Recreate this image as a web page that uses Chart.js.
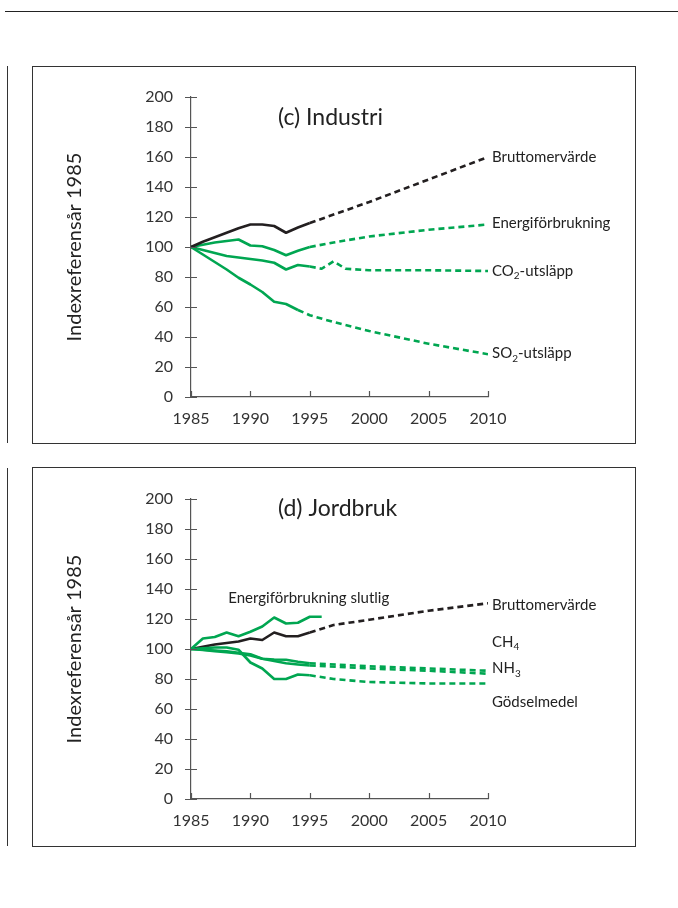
<!DOCTYPE html>
<html>
<head>
<meta charset="utf-8">
<script src="https://cdn.jsdelivr.net/npm/chart.js@4.4.1/dist/chart.umd.min.js"></script>
<style>
	body { margin: 0; background: #fff; width: 678px; height: 908px; position: relative; overflow: hidden; }
	.rule { position: absolute; left: 5px; top: 11px; width: 673px; border-top: 1.5px solid #222; }
	.bar { position: absolute; left: 7px; border-left: 1.5px solid #333; }
	.box { position: absolute; left: 32px; width: 604px; box-sizing: border-box; border: 1px solid #333; }
	.box canvas { position: absolute; left: 0; top: 0; }
</style>
</head>
<body>
<div class="rule"></div>
<div class="bar" style="top:66px;height:377px"></div>
<div class="bar" style="top:468px;height:378px"></div>
<div class="box" style="top:66px;height:378px"><canvas id="industri" width="602" height="376"></canvas></div>
<div class="box" style="top:467px;height:380px"><canvas id="jordbruk" width="602" height="378"></canvas></div>

<script>
// Years
var histYears = [1985, 1986, 1987, 1988, 1989, 1990, 1991, 1992, 1993, 1994, 1995];

// (c) Industri
var indBnpHist    = [100, 103.5, 106.5, 109.5, 112.5, 115, 115, 114, 109.5, 113, 116];
var indBnpYears   = [1995, 2000, 2005, 2010];
var indBnpProj    = [116, 130, 145, 160];
var indEnergiHist = [100, 101.5, 103, 104, 105, 101, 100.5, 98, 94.5, 97.5, 100];
var indEnergiYears = [1995, 1997, 2000, 2005, 2010];
var indEnergiProj = [100, 103, 107, 111.5, 115];
var indCo2Hist    = [100, 98, 96, 94, 93, 92, 91, 89.5, 85, 88, 87];
var indCo2Years   = [1995, 1996, 1997, 1998, 2000, 2005, 2010];
var indCo2Proj    = [87, 85.5, 90.5, 85.5, 84.5, 84.5, 84];
var indSo2HistYears = [1985, 1986, 1987, 1988, 1989, 1990, 1991, 1992, 1993, 1994];
var indSo2Hist    = [100, 95, 90, 85, 79.5, 75, 70, 63.5, 62, 58];
var indSo2Years   = [1994, 1995, 1997, 2000, 2005, 2010];
var indSo2Proj    = [58, 54.5, 50, 44, 35.5, 28.5];

// (d) Jordbruk
var jbEnergiYears = [1985, 1986, 1987, 1988, 1989, 1990, 1991, 1992, 1993, 1994, 1995, 1996];
var jbEnergi      = [100, 107, 108, 111, 108.5, 111.5, 115, 121, 117, 117.5, 121.5, 121.5];
var jbBnpHist     = [100, 101.5, 103, 104, 105, 107, 106, 111, 108.5, 108.5, 111];
var jbBnpYears    = [1995, 1997, 2000, 2005, 2010];
var jbBnpProj     = [111, 116, 119.5, 125.5, 130.5];
var jbCh4Hist     = [100, 99.5, 99, 98.5, 97.5, 96.5, 93.5, 93, 92.8, 91.5, 90.5];
var jbNh3Hist     = [100, 99.3, 98.6, 97.9, 97, 95.7, 93.5, 92, 90.5, 89.7, 89];
var jbProjYears   = [1995, 2000, 2005, 2010];
var jbCh4Proj     = [90.5, 88.5, 87, 85.5];
var jbNh3Proj     = [89, 87, 85.5, 83.5];
var jbGodselHist  = [100, 100.5, 101, 101, 99.5, 91, 87, 80, 80, 83, 82.5];
var jbGodselYears = [1995, 1997, 2000, 2005, 2010];
var jbGodselProj  = [82.5, 80, 78, 77, 77];

var GREEN = '#00a651';
var BLACK = '#231f20';
var FONT = 'Lato, "Open Sans", sans-serif';

function pts(years, values) {
	return years.map(function (y, i) { return { x: y, y: values[i] }; });
}

function series(years, values, color, dashed) {
	return {
		data: pts(years, values),
		borderColor: color,
		borderWidth: 2.6,
		borderDash: dashed ? [6, 4] : [],
		borderCapStyle: 'butt',
		borderJoinStyle: 'round',
		pointRadius: 0,
		tension: 0,
		fill: false
	};
}

// Tick marks, panel title and the line labels
function makeDecor(title, titleDy, notes) {
	return {
		id: 'decor',
		afterDraw: function (chart) {
			var ctx = chart.ctx, xs = chart.scales.x, ys = chart.scales.y;
			ctx.save();
			ctx.strokeStyle = '#555';
			ctx.lineWidth = 1.2;
			ctx.beginPath();
			ys.ticks.forEach(function (t) {
				var y = Math.round(ys.getPixelForValue(t.value)) + 0.5;
				ctx.moveTo(xs.left - 6, y);
				ctx.lineTo(xs.left + 6, y);
			});
			xs.ticks.forEach(function (t) {
				var x = Math.round(xs.getPixelForValue(t.value)) + 0.5;
				ctx.moveTo(x, ys.bottom);
				ctx.lineTo(x, ys.bottom - 6);
			});
			ctx.stroke();

			ctx.fillStyle = '#222';
			ctx.textBaseline = 'middle';
			ctx.textAlign = 'left';
			ctx.font = '23px ' + FONT;
			ctx.fillText(title, xs.left + 87, ys.top + titleDy);

			notes.forEach(function (n) {
				var x = xs.getPixelForValue(n.year) + 4;
				var y = ys.getPixelForValue(n.value);
				ctx.font = '15px ' + FONT;
				ctx.fillText(n.text, x, y);
				if (n.sub) {
					var w = ctx.measureText(n.text).width;
					ctx.font = '10px ' + FONT;
					ctx.fillText(n.sub, x + w, y + 5);
					var w2 = ctx.measureText(n.sub).width;
					ctx.font = '15px ' + FONT;
					ctx.fillText(n.rest || '', x + w + w2, y);
				}
			});
			ctx.restore();
		}
	};
}

function makeChart(id, datasets, decor, padTop, axisH) {
	var tickFont = { family: FONT, size: 16 };
	return new Chart(document.getElementById(id), {
		type: 'line',
		data: { datasets: datasets },
		options: {
			responsive: false,
			animation: false,
			layout: { padding: { top: padTop, right: 147, left: 0, bottom: 0 } },
			plugins: { legend: { display: false }, tooltip: { enabled: false } },
			scales: {
				x: {
					type: 'linear', min: 1985, max: 2010,
					grid: { display: false, drawTicks: false },
					border: { color: '#555', width: 1.2 },
					ticks: { stepSize: 5, padding: 12, color: '#333', font: tickFont,
						callback: function (v) { return String(v); } },
					afterFit: function (s) { s.height = axisH; }
				},
				y: {
					min: 0, max: 200,
					grid: { display: false, drawTicks: false },
					border: { color: '#555', width: 1.2 },
					ticks: { stepSize: 20, padding: 18, color: '#333', font: tickFont },
					title: { display: true, text: 'Indexreferensår 1985', color: '#222',
						font: { family: FONT, size: 20 }, padding: { top: 30 } },
					afterFit: function (s) { s.width = 158; }
				}
			}
		},
		plugins: [decor]
	});
}

makeChart('industri', [
	series(histYears, indBnpHist, BLACK, false),
	series(indBnpYears, indBnpProj, BLACK, true),
	series(histYears, indEnergiHist, GREEN, false),
	series(indEnergiYears, indEnergiProj, GREEN, true),
	series(histYears, indCo2Hist, GREEN, false),
	series(indCo2Years, indCo2Proj, GREEN, true),
	series(indSo2HistYears, indSo2Hist, GREEN, false),
	series(indSo2Years, indSo2Proj, GREEN, true)
], makeDecor('(c) Industri', 21, [
	{ text: 'Bruttomervärde', year: 2010, value: 160 },
	{ text: 'Energiförbrukning', year: 2010, value: 116 },
	{ text: 'CO', sub: '2', rest: '-utsläpp', year: 2010, value: 84 },
	{ text: 'SO', sub: '2', rest: '-utsläpp', year: 2010, value: 29 }
]), 30, 46);

makeChart('jordbruk', [
	series(jbEnergiYears, jbEnergi, GREEN, false),
	series(histYears, jbCh4Hist, GREEN, false),
	series(jbProjYears, jbCh4Proj, GREEN, true),
	series(histYears, jbNh3Hist, GREEN, false),
	series(jbProjYears, jbNh3Proj, GREEN, true),
	series(histYears, jbGodselHist, GREEN, false),
	series(jbGodselYears, jbGodselProj, GREEN, true),
	series(histYears, jbBnpHist, BLACK, false),
	series(jbBnpYears, jbBnpProj, BLACK, true)
], makeDecor('(d) Jordbruk', 10, [
	{ text: 'Energiförbrukning slutlig', year: 1987.8, value: 134 },
	{ text: 'Bruttomervärde', year: 2010, value: 129 },
	{ text: 'CH', sub: '4', rest: '', year: 2010, value: 104.5 },
	{ text: 'NH', sub: '3', rest: '', year: 2010, value: 87 },
	{ text: 'Gödselmedel', year: 2010, value: 64.5 }
]), 31, 47);
</script>
</body>
</html>
